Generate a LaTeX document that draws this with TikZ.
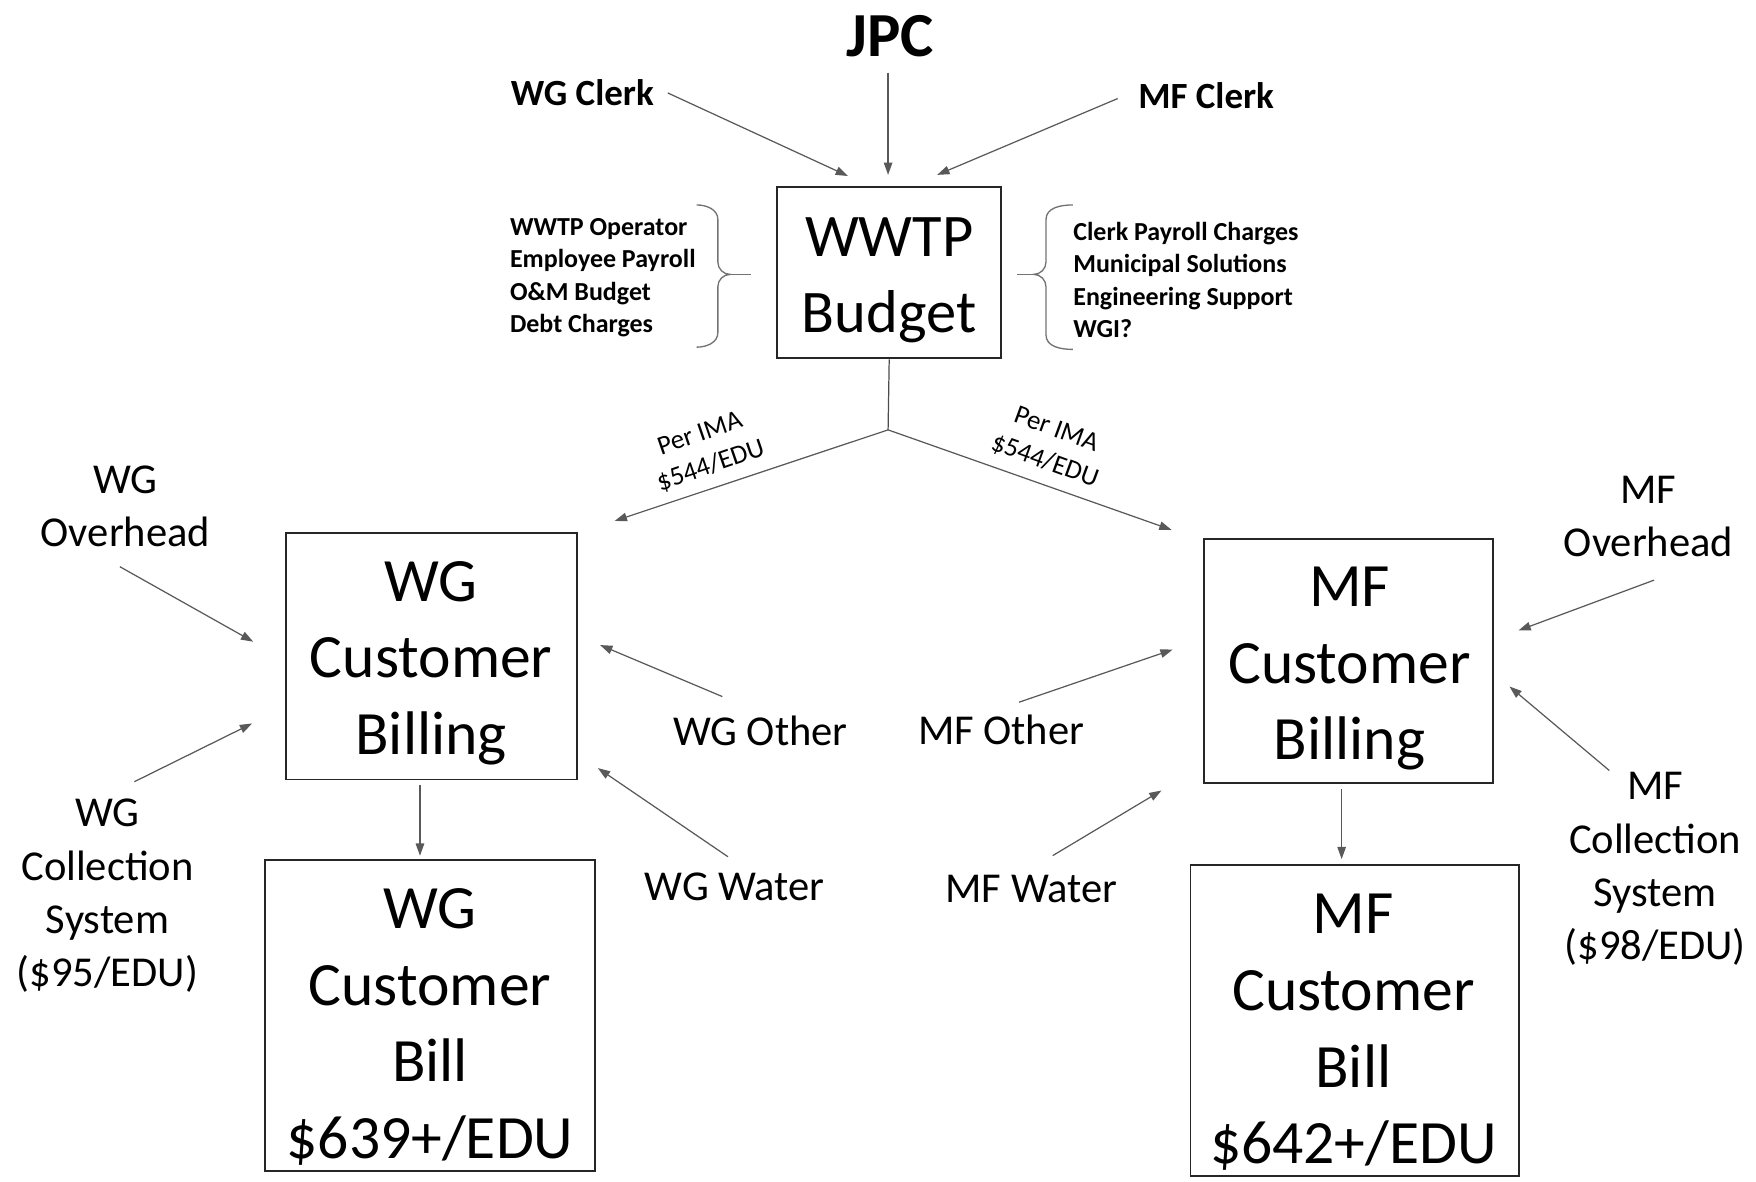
\documentclass[tikz,border=0pt]{standalone}
\usepackage{fontspec}
\setmainfont{Carlito}
\usetikzlibrary{arrows.meta}
\tikzset{
  box/.style={draw=black!85, line width=0.85pt, inner sep=0pt},
  boxtxt/.style={inner sep=0pt, align=center, font=\fontsize{27.5}{34.2}\selectfont},
  lbl/.style={inner sep=0pt, align=center, font=\fontsize{19}{23.8}\selectfont},
  blbl/.style={inner sep=0pt, font=\bfseries\fontsize{16.5}{20}\selectfont},
  lst/.style={inner sep=0pt, align=left, anchor=west, font=\bfseries\fontsize{11.6}{14.5}\selectfont},
  ima/.style={inner sep=0pt, align=center, font=\fontsize{12}{15}\selectfont},
  arr/.style={draw=black!65, line width=0.55pt, -{Triangle[length=5.5pt,width=3.8pt]}},
  ln/.style={draw=black!70, line width=0.55pt},
  brace/.style={draw=black!55, line width=0.6pt}
}
\begin{document}
\begin{tikzpicture}[x=0.5pt,y=-0.5pt]
\useasboundingbox (0,0) rectangle (1568,1055);
% top
\node[inner sep=0pt, font=\bfseries\fontsize{28}{32}\selectfont] (jpc) at (795,32) {JPC};
\node[blbl] (wgclerk) at (520,83) {WG Clerk};
\node[blbl] (mfclerk) at (1077,85) {MF Clerk};
\node[box, minimum width=100pt, minimum height=76.5pt] (wwtp) at (794,243.5) {};
\node[boxtxt, font=\fontsize{27}{34}\selectfont] (wwtptxt) at ([shift={(0,7)}]wwtp.center) {WWTP\\Budget};
\node[lst] (leftlist) at (455,248) {WWTP Operator\\Employee Payroll\\O\&M Budget\\Debt Charges};
\node[lst] (rightlist) at (958,250) {Clerk Payroll Charges\\Municipal Solutions\\Engineering Support\\WGI?};
% braces
\draw[brace] (622,183) to[out=0,in=90] (641,196) -- (641,234) to[out=-90,in=180] (652,245)
  to[out=180,in=90] (641,256) -- (641,297) to[out=-90,in=0] (622,310);
\draw[brace] (652,245) -- (671,245);
\draw[brace] (958,183) to[out=180,in=90] (934,196) -- (934,234) to[out=-90,in=0] (923,245)
  to[out=0,in=90] (934,256) -- (934,299) to[out=-90,in=180] (958,312);
\draw[brace] (923,245) -- (908,245);
% arrows into budget
\draw[arr] ([shift={(-2,14)}]jpc.south) -- ([shift={(-1,-10)}]wwtp.north);
\draw[arr] ([shift={(12,0)}]wgclerk.east) -- ([shift={(64,-9)}]wwtp.north west);
\draw[arr] ([shift={(-18,3)}]mfclerk.west) -- ([shift={(-58,-10)}]wwtp.north east);
% billing boxes
\node[box, minimum width=130pt, minimum height=110pt] (wgbilling) at (385,586) {};
\node[boxtxt] (wgbillingtxt) at ([shift={(0,6)}]wgbilling.center) {WG\\Customer\\Billing};
\node[box, minimum width=147pt, minimum height=139pt] (wgbill) at (384,907) {};
\node[boxtxt] (wgbilltxt) at ([shift={(0,10)}]wgbill.center) {WG\\Customer\\Bill\\\$639+/EDU};
\node[box, minimum width=129pt, minimum height=109pt] (mfbilling) at (1204,590) {};
\node[boxtxt] (mfbillingtxt) at ([shift={(1,7)}]mfbilling.center) {MF\\Customer\\Billing};
\node[box, minimum width=146.5pt, minimum height=139pt] (mfbill) at (1209.5,911) {};
\node[boxtxt] (mfbilltxt) at ([shift={(-1,11)}]mfbill.center) {MF\\Customer\\Bill\\\$642+/EDU};
% split
\coordinate (split) at ([shift={(-1,63)}]wwtp.south);
\draw[ln] (wwtp.south) -- (split);
\draw[arr] (split) -- ([shift={(33,-10)}]wgbilling.north east);
\draw[arr] (split) -- ([shift={(-28,-7)}]mfbilling.north west);
\node[ima, rotate=19] (imaL) at (630,402) {Per IMA\\\$544/EDU};
\node[ima, rotate=-20] (imaR) at (938,398) {Per IMA\\\$544/EDU};
% billing -> bill
\draw[arr] ([shift={(-10,4)}]wgbilling.south) -- ([shift={(-9,-3)}]wgbill.north);
\draw[arr] ([shift={(-6,5)}]mfbilling.south) -- ([shift={(-11.5,-4)}]mfbill.north);
% WG side labels
\node[lbl] (wgover) at (112,452) {WG\\Overhead};
\node[lbl] (wgcoll) at (96,800) {WG\\Collection\\System\\(\$95/EDU)};
\node[lbl] (wgother) at (679,653) {WG Other};
\node[lbl] (wgwater) at (656,792) {WG Water};
\draw[arr] ([shift={(-5,54)}]wgover.center) -- ([shift={(-28,-13)}]wgbilling.west);
\draw[arr] ([shift={(24,-102)}]wgcoll.center) -- ([shift={(-29,60)}]wgbilling.west);
\draw[arr] ([shift={(-34,-31)}]wgother.center) -- ([shift={(20,-10)}]wgbilling.east);
\draw[arr] ([shift={(-6,-27)}]wgwater.center) -- ([shift={(18,-11)}]wgbilling.south east);
% MF side labels
\node[lbl] (mfover) at (1472,461) {MF\\Overhead};
\node[lbl] (mfcoll) at (1478,776) {MF\\Collection\\System\\(\$98/EDU)};
\node[lbl] (mfother) at (894,652) {MF Other};
\node[lbl] (mfwater) at (921,794) {MF Water};
\draw[arr] ([shift={(5,57)}]mfover.center) -- ([shift={(22,-27)}]mfbilling.east);
\draw[arr] ([shift={(-41,-88)}]mfcoll.center) -- ([shift={(14,23)}]mfbilling.east);
\draw[arr] ([shift={(16,-25)}]mfother.center) -- ([shift={(-27,-10)}]mfbilling.west);
\draw[arr] ([shift={(19,-30)}]mfwater.center) -- ([shift={(-37,6)}]mfbilling.south west);
\end{tikzpicture}
\end{document}
